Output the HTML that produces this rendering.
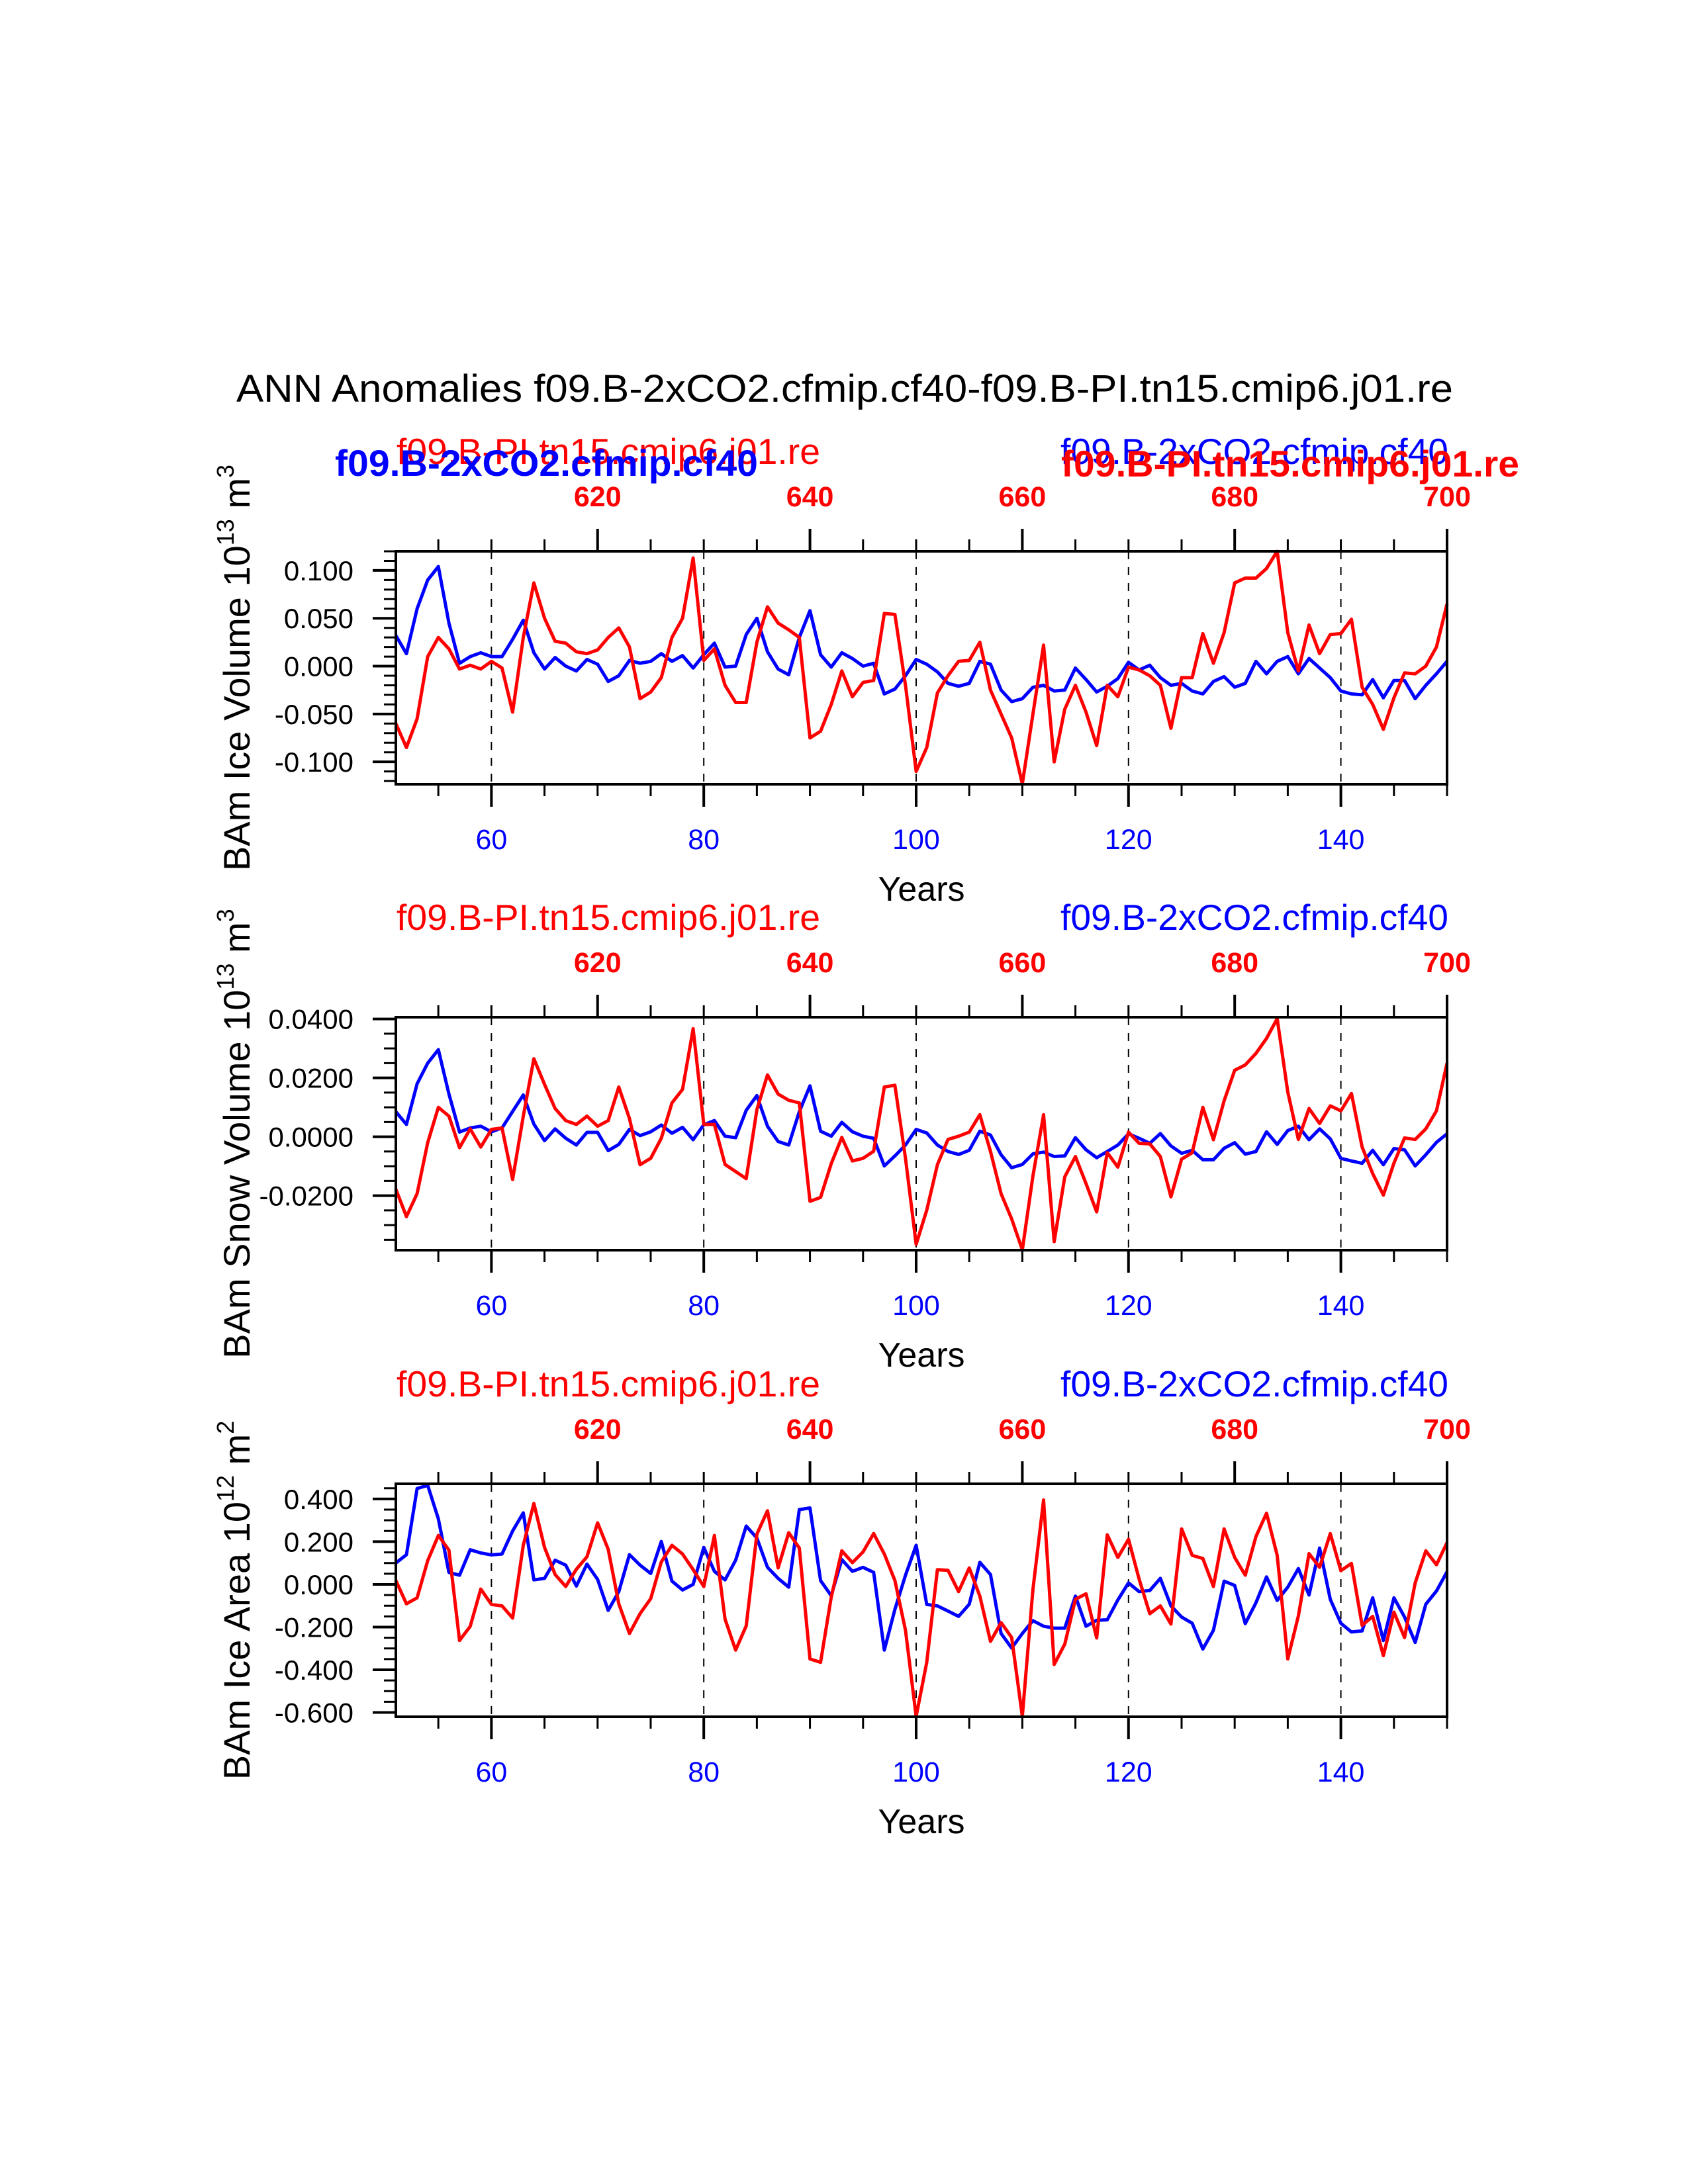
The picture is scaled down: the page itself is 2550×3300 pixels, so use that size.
<!DOCTYPE html>
<html><head><meta charset="utf-8"><title>ANN Anomalies</title>
<style>html,body{margin:0;padding:0;background:#fff}svg{display:block}text{font-family:"Liberation Sans",Arial,sans-serif}</style>
</head><body>
<svg id="chart" xmlns="http://www.w3.org/2000/svg" width="2550" height="3300" viewBox="0 0 2550 3300">
<rect x="0" y="0" width="2550" height="3300" fill="#fff"/>
<text x="357" y="607" font-size="58" textLength="1838" lengthAdjust="spacingAndGlyphs">ANN Anomalies f09.B-2xCO2.cfmip.cf40-f09.B-PI.tn15.cmip6.j01.re</text>
</svg>
<script>
const years = Array.from({length:100},(_,i)=>51+i);
const volBlue = [0.032,0.013,0.06,0.09,0.104,0.045,0.003,0.01,0.014,0.01,0.01,0.028,0.048,0.014,-0.003,0.009,0.0,-0.005,0.007,0.002,-0.016,-0.01,0.006,0.003,0.005,0.013,0.005,0.011,-0.002,0.012,0.024,-0.001,0.0,0.033,0.05,0.015,-0.003,-0.009,0.03,0.058,0.012,-0.001,0.014,0.008,0.0,0.003,-0.029,-0.024,-0.01,0.007,0.002,-0.006,-0.018,-0.021,-0.018,0.005,0.002,-0.025,-0.037,-0.034,-0.022,-0.02,-0.026,-0.025,-0.002,-0.014,-0.027,-0.021,-0.013,0.004,-0.004,0.001,-0.012,-0.02,-0.018,-0.026,-0.029,-0.016,-0.011,-0.022,-0.018,0.005,-0.008,0.005,0.01,-0.008,0.008,-0.002,-0.012,-0.026,-0.029,-0.03,-0.014,-0.033,-0.015,-0.015,-0.034,-0.02,-0.008,0.005];
const volRed = [-0.06,-0.085,-0.055,0.01,0.03,0.018,-0.003,0.001,-0.003,0.005,-0.002,-0.048,0.03,0.087,0.05,0.026,0.024,0.015,0.013,0.017,0.03,0.04,0.02,-0.034,-0.027,-0.012,0.03,0.05,0.113,0.006,0.018,-0.02,-0.038,-0.038,0.025,0.062,0.045,0.038,0.03,-0.075,-0.068,-0.04,-0.005,-0.032,-0.017,-0.015,0.055,0.054,-0.02,-0.11,-0.085,-0.028,-0.01,0.005,0.006,0.025,-0.025,-0.05,-0.075,-0.123,-0.05,0.022,-0.1,-0.045,-0.02,-0.048,-0.083,-0.02,-0.032,-0.001,-0.004,-0.01,-0.02,-0.065,-0.012,-0.012,0.034,0.003,0.035,0.087,0.092,0.092,0.102,0.12,0.035,-0.005,0.043,0.013,0.033,0.034,0.049,-0.022,-0.04,-0.066,-0.033,-0.007,-0.008,0.0,0.02,0.065];
const snowBlue = [0.0085,0.0042,0.018,0.025,0.0296,0.0145,0.0016,0.003,0.0036,0.0017,0.003,0.0086,0.0142,0.0043,-0.0013,0.0027,-0.0005,-0.0028,0.0015,0.0015,-0.0047,-0.0026,0.0025,0.0004,0.0017,0.004,0.0012,0.0032,-0.001,0.0041,0.0055,0.0002,-0.0003,0.009,0.014,0.0036,-0.0016,-0.0028,0.0085,0.0173,0.0019,0.0002,0.0049,0.0017,0.0002,-0.0005,-0.0099,-0.0065,-0.0028,0.0025,0.0013,-0.0028,-0.005,-0.006,-0.0046,0.0019,0.0006,-0.0061,-0.0105,-0.0094,-0.0058,-0.0052,-0.0067,-0.0065,-0.0003,-0.0044,-0.0071,-0.005,-0.0028,0.001,-0.0005,-0.0022,0.0011,-0.0031,-0.0056,-0.0046,-0.0078,-0.0078,-0.0039,-0.002,-0.0059,-0.005,0.0017,-0.0026,0.0021,0.0036,-0.001,0.0027,-0.0007,-0.0073,-0.0082,-0.009,-0.0046,-0.0095,-0.004,-0.0044,-0.0099,-0.0061,-0.0019,0.001];
const snowRed = [-0.0178,-0.0271,-0.0193,-0.002,0.01,0.007,-0.0037,0.0027,-0.0035,0.0025,0.003,-0.0145,0.007,0.0265,0.0178,0.0096,0.0055,0.0042,0.007,0.0036,0.0055,0.0169,0.0062,-0.0095,-0.0073,-0.0005,0.0115,0.0161,0.0367,0.0042,0.0042,-0.0094,-0.0118,-0.0142,0.0092,0.021,0.0145,0.0124,0.0115,-0.0219,-0.0206,-0.0091,-0.0002,-0.0082,-0.0073,-0.0049,0.0169,0.0175,-0.0073,-0.0365,-0.0249,-0.0095,-0.0009,0.0002,0.0016,0.0075,-0.005,-0.0193,-0.0279,-0.0384,-0.0133,0.0075,-0.0356,-0.0136,-0.0067,-0.0159,-0.0255,-0.0054,-0.0103,0.0016,-0.0022,-0.0024,-0.0067,-0.0204,-0.0076,-0.0054,0.01,-0.001,0.0122,0.0226,0.0244,0.0283,0.0334,0.0401,0.0152,-0.0009,0.0096,0.0045,0.0105,0.0088,0.0147,-0.0035,-0.0125,-0.0198,-0.0089,-0.0004,-0.0009,0.0027,0.0088,0.025];
const areaBlue = [0.1,0.139,0.449,0.464,0.307,0.056,0.043,0.162,0.147,0.138,0.142,0.25,0.335,0.021,0.028,0.113,0.09,-0.008,0.095,0.023,-0.122,-0.034,0.139,0.09,0.051,0.201,0.015,-0.026,0.0,0.173,0.061,0.021,0.113,0.273,0.217,0.08,0.028,-0.013,0.35,0.358,0.018,-0.053,0.116,0.061,0.08,0.056,-0.308,-0.117,0.043,0.183,-0.094,-0.101,-0.125,-0.15,-0.093,0.103,0.046,-0.23,-0.298,-0.23,-0.17,-0.196,-0.205,-0.205,-0.055,-0.196,-0.168,-0.166,-0.073,0.007,-0.034,-0.029,0.028,-0.101,-0.153,-0.182,-0.303,-0.215,0.015,-0.005,-0.184,-0.086,0.035,-0.075,-0.013,0.074,-0.05,0.17,-0.07,-0.182,-0.223,-0.218,-0.063,-0.263,-0.063,-0.153,-0.272,-0.093,-0.031,0.059];
const areaRed = [0.018,-0.091,-0.063,0.111,0.229,0.16,-0.263,-0.197,-0.022,-0.094,-0.101,-0.158,0.183,0.379,0.173,0.046,-0.01,0.071,0.129,0.288,0.164,-0.091,-0.23,-0.137,-0.067,0.105,0.183,0.142,0.069,-0.01,0.229,-0.163,-0.308,-0.194,0.235,0.345,0.077,0.242,0.17,-0.349,-0.365,-0.06,0.157,0.102,0.152,0.238,0.142,0.018,-0.215,-0.618,-0.365,0.069,0.066,-0.034,0.077,-0.055,-0.267,-0.179,-0.249,-0.618,-0.024,0.395,-0.375,-0.28,-0.07,-0.044,-0.251,0.232,0.126,0.211,0.025,-0.137,-0.101,-0.186,0.26,0.136,0.121,-0.01,0.26,0.126,0.043,0.224,0.333,0.136,-0.349,-0.148,0.144,0.08,0.238,0.064,0.098,-0.192,-0.15,-0.334,-0.13,-0.249,0.007,0.157,0.092,0.195];
const bottomTicks = [60,80,100,120,140];
const topTickLabels = [620,640,660,680,700];
const yTicks1 = [0.1,0.05,0,-0.05,-0.1];
const yLabels1 = ["0.100","0.050","0.000","-0.050","-0.100"];
const yTicks2 = [0.04,0.02,0,-0.02];
const yLabels2 = ["0.0400","0.0200","0.0000","-0.0200"];
const yTicks3 = [0.4,0.2,0,-0.2,-0.4,-0.6];
const yLabels3 = ["0.400","0.200","0.000","-0.200","-0.400","-0.600"];

const NS = "http://www.w3.org/2000/svg";
const svg = document.getElementById('chart');
const X0 = 598, X1 = 2186, H = 352;
function xs(yr){ return X0 + (yr-51)/99*(X1-X0); }
function mk(tag, attrs, parent){
  const el = document.createElementNS(NS, tag);
  for (const k in attrs) el.setAttribute(k, attrs[k]);
  (parent||svg).appendChild(el);
  return el;
}
const panels = [
 {top:833, lo:-0.1234, hi:0.120, blue:volBlue, red:volRed, ticks:yTicks1, labels:yLabels1, minor:0.01, title:["BAm Ice Volume 10","13"," m","3"], bold:true},
 {top:1537, lo:-0.0385, hi:0.0406, blue:snowBlue, red:snowRed, ticks:yTicks2, labels:yLabels2, minor:0.005, title:["BAm Snow Volume 10","13"," m","3"], bold:false},
 {top:2242, lo:-0.620, hi:0.471, blue:areaBlue, red:areaRed, ticks:yTicks3, labels:yLabels3, minor:0.05, title:["BAm Ice Area 10","12"," m","2"], bold:false}
];
panels.forEach((p, pi) => {
  const g = mk('g', {});
  
  
  const top = p.top, bot = p.top + H;
  const ys = v => bot - (v - p.lo)/(p.hi - p.lo)*H;
  const off = top - 833;
  bottomTicks.forEach(t => {
    const l = mk('line', {x1:xs(t), x2:xs(t), y1:top, y2:bot, stroke:'#000', 'stroke-width':2, 'stroke-dasharray':'12,12'}, g);
    
    
  });
  [[p.blue,'#0000ff','blue-series'],[p.red,'#ff0000','red-series']].forEach(s => {
    const pts = s[0].map((v,i) => xs(years[i]).toFixed(1)+','+ys(v).toFixed(1)).join(' ');
    const pl = mk('polyline', {points:pts, fill:'none', stroke:s[1], 'stroke-width':5, 'stroke-linejoin':'round'}, g);
    
    
  });
  const fr = mk('rect', {x:X0, y:top, width:X1-X0, height:H, fill:'none', stroke:'#000', 'stroke-width':4}, g);
  
  
  for (let yr = 55; yr <= 150; yr += 5) {
    const majB = (yr % 20 === 0), majT = ((yr - 70) % 20 === 0);
    mk('line', {x1:xs(yr), x2:xs(yr), y1:bot, y2:bot + (majB?34:18), stroke:'#000', 'stroke-width':majB?4:3}, g);
    mk('line', {x1:xs(yr), x2:xs(yr), y1:top, y2:top - (majT?34:18), stroke:'#000', 'stroke-width':majT?4:3}, g);
  }
  bottomTicks.forEach(t => {
    const tx = mk('text', {x:xs(t), y:bot+98, 'font-size':43, fill:'#0000ff', 'text-anchor':'middle'}, g);
    tx.textContent = t;
    
    
  });
  topTickLabels.forEach(t => {
    const tx = mk('text', {x:xs(t-550), y:top-68, 'font-size':43, fill:'#ff0000', 'font-weight':'bold', 'text-anchor':'middle'}, g);
    tx.textContent = t;
    
    
  });
  const n0 = Math.ceil(p.lo/p.minor - 1e-6), n1 = Math.floor(p.hi/p.minor + 1e-6);
  for (let n = n0; n <= n1; n++) {
    const v = n*p.minor;
    const isMaj = p.ticks.some(t => Math.abs(t - v) < p.minor/10);
    mk('line', {x1:X0, x2:X0 - (isMaj?35:18), y1:ys(v), y2:ys(v), stroke:'#000', 'stroke-width':isMaj?4:3}, g);
  }
  p.ticks.forEach((t, i) => {
    const tx = mk('text', {x:534, y:ys(t)+15, 'font-size':42, fill:'#000', 'text-anchor':'end'}, g);
    tx.textContent = p.labels[i];
    
    
  });
  const xt = mk('text', {x:(X0+X1)/2, y:bot+176, 'font-size':52, fill:'#000', 'text-anchor':'middle'}, g);
  xt.textContent = 'Years';
  
  
  const cy = (top+bot)/2;
  const yt = mk('text', {x:0, y:0, 'font-size':56, fill:'#000', 'text-anchor':'middle', transform:'translate(377,'+cy+') rotate(-90)'}, g);
  
  
  const t1 = mk('tspan', {}, yt); t1.textContent = p.title[0];
  const t2 = mk('tspan', {dy:-24, 'font-size':36}, yt); t2.textContent = p.title[1];
  const t3 = mk('tspan', {dy:24}, yt); t3.textContent = p.title[2];
  const t4 = mk('tspan', {dy:-24, 'font-size':36}, yt); t4.textContent = p.title[3];
  const sl = mk('text', {x:599, y:701+off, 'font-size':55, fill:'#ff0000', textLength:640, lengthAdjust:'spacingAndGlyphs'}, g);
  sl.textContent = 'f09.B-PI.tn15.cmip6.j01.re';
  
  
  const sr = mk('text', {x:1602, y:701+off, 'font-size':55, fill:'#0000ff', textLength:586, lengthAdjust:'spacingAndGlyphs'}, g);
  sr.textContent = 'f09.B-2xCO2.cfmip.cf40';
  
  
  if (p.bold) {
    const bl = mk('text', {x:506, y:719, 'font-size':56, 'font-weight':'bold', fill:'#0000ff', textLength:639, lengthAdjust:'spacingAndGlyphs'}, g);
    bl.textContent = 'f09.B-2xCO2.cfmip.cf40';
    
    
    const br = mk('text', {x:1603, y:720, 'font-size':56, 'font-weight':'bold', fill:'#ff0000', textLength:692, lengthAdjust:'spacingAndGlyphs'}, g);
    br.textContent = 'f09.B-PI.tn15.cmip6.j01.re';
    
    
  }
});
</script>
</body></html>
